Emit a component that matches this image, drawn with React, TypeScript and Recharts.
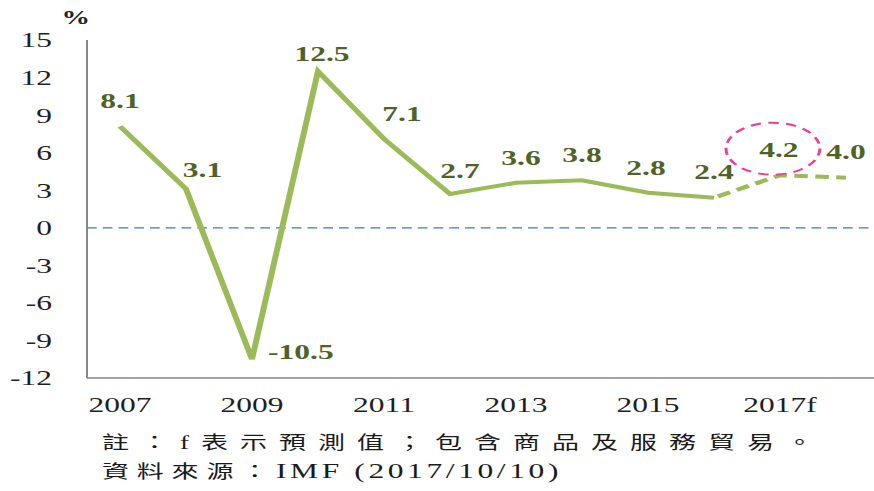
import { LineChart, Line, XAxis, YAxis, ReferenceLine, ReferenceDot, LabelList } from 'recharts';

const years = [2007, 2008, 2009, 2010, 2011, 2012, 2013, 2014, 2015, 2016, 2017, 2018];
const growth = [8.1, 3.1, -10.5, 12.5, 7.1, 2.7, 3.6, 3.8, 2.8, 2.4, 4.2, 4.0];
const lastActualYear = 2016;
const forecastYears = [2017, 2018];
const circledYear = 2017;
const yTicks = [-12, -9, -6, -3, 0, 3, 6, 9, 12, 15];
const yearLabels = [2007, 2009, 2011, 2013, 2015, 2017];
const noteText = '註：f表示預測值；包含商品及服務貿易。';
const sourceLabel = '資料來源：';
const sourceRef = 'IMF (2017/10/10)';

// the original picture is stretched sideways, so the whole chart is drawn narrow and scaled
const STRETCH = 1.5;
const W = 586;

// where each value label sits relative to its point (unscaled px)
const labelNudge: { dx: number; dy: number; anchor?: 'start' | 'middle' }[] = [
  { dx: 0, dy: -25 },
  { dx: 11, dy: -19 },
  { dx: 10.7, dy: -7, anchor: 'start' },
  { dx: 2.7, dy: -17.5 },
  { dx: 12, dy: -25 },
  { dx: 6.7, dy: -23 },
  { dx: 3.3, dy: -25 },
  { dx: 0, dy: -25 },
  { dx: -1.3, dy: -25 },
  { dx: 0, dy: -26 },
  { dx: -0.7, dy: -25 },
  { dx: 0, dy: -26 },
];

const rows = years.map((year, i) => ({
  year,
  value: growth[i],
  actual: year <= lastActualYear ? growth[i] : null,
  forecast: year >= lastActualYear ? growth[i] : null,
}));

const yearBounds = [...years.map((y) => y - 0.5), years[years.length - 1] + 0.5];
const xDomain = [yearBounds[0], yearBounds[yearBounds.length - 1]];

const serif = '"Liberation Serif", "Times New Roman", serif';
const axisGray = '#868686';

const renderValue = (props: any) => {
  const { x, y, value, index } = props;
  const n = labelNudge[index] || { dx: 0, dy: -25 };
  return (
    <text
      x={x + n.dx}
      y={y + n.dy}
      textAnchor={n.anchor ?? 'middle'}
      dominantBaseline="central"
      fontFamily={serif}
      fontSize={21}
      fontWeight="bold"
      fill="#4f6228"
    >
      {Number(value).toFixed(1)}
    </text>
  );
};

const noteStyle = {
  position: 'absolute' as const,
  left: 68,
  fontFamily: '"Liberation Serif", "Noto Sans CJK TC", serif',
  fontSize: 18,
  lineHeight: '20px',
  color: '#1a1a1a',
  whiteSpace: 'nowrap' as const,
};

export default function App() {
  const circled = growth[years.indexOf(circledYear)];
  return (
    <div style={{ position: 'absolute', left: 0, top: 0, width: 874, height: 491, overflow: 'hidden', background: '#fff' }}>
      <div style={{ position: 'relative', width: W, height: 491, transform: `scaleX(${STRETCH})`, transformOrigin: '0 0' }}>
        <div style={{ position: 'absolute', left: 41, top: 8, fontFamily: serif, fontSize: 19, fontWeight: 'bold', lineHeight: '19px', color: '#222' }}>%</div>
        <LineChart width={W} height={425} data={rows} margin={{ top: 40, right: 0, bottom: 15, left: 0 }}>
          <XAxis
            xAxisId="label"
            dataKey="year"
            type="number"
            domain={xDomain}
            ticks={yearLabels}
            interval={0}
            tickFormatter={(v: number) => (forecastYears.includes(v) ? `${v}f` : String(v))}
            axisLine={false}
            tickLine={false}
            tickSize={0}
            tickMargin={19}
            height={32}
            tick={{ fontFamily: serif, fontSize: 21, fill: '#1f1f1f' }}
          />
          <XAxis
            xAxisId="frame"
            dataKey="year"
            type="number"
            domain={xDomain}
            ticks={yearBounds}
            interval={0}
            mirror
            tick={false}
            tickSize={5}
            axisLine={{ stroke: axisGray, strokeWidth: 1.5 }}
            tickLine={{ stroke: axisGray, strokeWidth: 1.2 }}
          />
          <YAxis
            yAxisId="label"
            type="number"
            domain={[-12, 15]}
            ticks={yTicks}
            interval={0}
            width={58}
            axisLine={false}
            tickLine={false}
            tickSize={0}
            tickMargin={23.3}
            tick={{ fontFamily: serif, fontSize: 21, fill: '#1f1f1f' }}
          />
          <YAxis
            yAxisId="frame"
            type="number"
            domain={[-12, 15]}
            ticks={yTicks}
            interval={0}
            mirror
            tick={false}
            tickSize={6.7}
            axisLine={{ stroke: axisGray, strokeWidth: 1.3 }}
            tickLine={{ stroke: axisGray, strokeWidth: 1.4 }}
          />
          <ReferenceLine xAxisId="label" yAxisId="label" y={0} stroke="#4472c4" strokeWidth={1.3} strokeDasharray="6.5 4" />
          <Line
            xAxisId="label"
            yAxisId="label"
            dataKey="actual"
            stroke="#9bbb59"
            strokeWidth={4}
            dot={false}
            activeDot={false}
            connectNulls={false}
            isAnimationActive={false}
          />
          <Line
            xAxisId="label"
            yAxisId="label"
            dataKey="forecast"
            stroke="#9bbb59"
            strokeWidth={4}
            strokeDasharray="9 5"
            strokeDashoffset={-3}
            dot={false}
            activeDot={false}
            connectNulls={false}
            isAnimationActive={false}
          />
          <Line
            xAxisId="label"
            yAxisId="label"
            dataKey="value"
            stroke="none"
            dot={false}
            activeDot={false}
            isAnimationActive={false}
          >
            <LabelList dataKey="value" content={renderValue} />
          </Line>
          <ReferenceDot
            xAxisId="label"
            yAxisId="label"
            x={circledYear}
            y={circled}
            shape={(p: any) => (
              <ellipse
                cx={p.cx - 4.7}
                cy={p.cy - 26.5}
                rx={31.3}
                ry={26}
                fill="none"
                stroke="#ee3d96"
                strokeWidth={2}
                strokeDasharray="7 5"
              />
            )}
          />
        </LineChart>
        <div lang="zh-TW" style={{ ...noteStyle, top: 433, letterSpacing: 8 }}>{noteText}</div>
        <div lang="zh-TW" style={{ ...noteStyle, top: 461 }}>
          <span style={{ letterSpacing: 5.2 }}>{sourceLabel}</span>
          <span style={{ fontSize: 21, letterSpacing: 2.4 }}>{sourceRef}</span>
        </div>
      </div>
    </div>
  );
}
